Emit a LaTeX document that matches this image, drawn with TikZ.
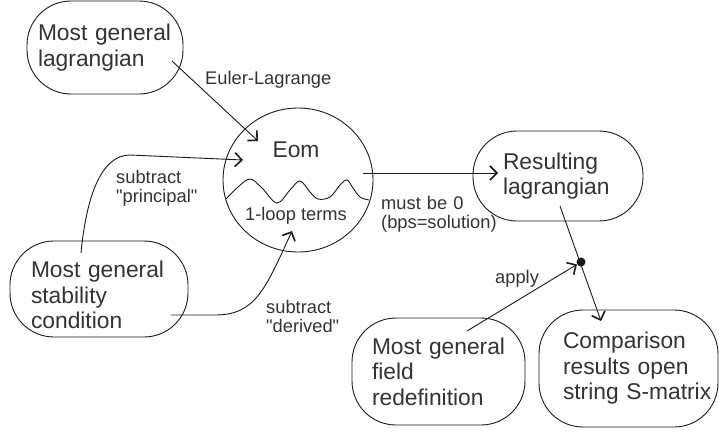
\documentclass[tikz,border=0pt]{standalone}
\usepackage{fontspec}
\setmainfont{Liberation Sans}[Ligatures=TeXOff]
\usetikzlibrary{arrows.meta,shapes.geometric}
\definecolor{txt}{HTML}{333333}
\definecolor{ln}{HTML}{1A1A1A}
\hbadness=10000 \hfuzz=200pt
\begin{document}
\begin{tikzpicture}[x=1pt,y=-1pt,
  box/.style={draw=ln, line width=0.9pt, rounded corners=44pt, align=left,
    font=\fontsize{22.8}{25.5}\selectfont, text=txt, inner sep=0pt},
  big/.style={font=\fontsize{22.8}{25.5}\selectfont, text=txt, inner sep=0pt},
  lbl/.style={font=\fontsize{18.3}{19.5}\selectfont, text=txt, inner sep=0pt,
    anchor=base west, align=left},
  conn/.style={draw=ln, line width=0.9pt,
    -{Straight Barb[length=7pt,width=14pt,line width=1.6pt]}}]
\useasboundingbox (0,0) rectangle (719,434);

% boxes
\node[box, minimum width=156pt, minimum height=93pt, text width=134pt] (lag) at (105,47.5) {\mbox{Most general}\\lagrangian};
\node[box, minimum width=178pt, minimum height=96pt, text width=136pt] (stab) at (99,289) {\rule{0pt}{29pt}\mbox{Most general}\\stability\\condition};
\node[box, minimum width=170pt, minimum height=90pt, text width=110pt] (res) at (558,176) {Resulting\\lagrangian};
\node[box, minimum width=173pt, minimum height=107pt, text width=133pt] (fld) at (438.5,371.5) {\mbox{Most general}\\field\\redefinition};
\node[box, minimum width=179pt, minimum height=117pt, text width=131pt] (cmp) at (628.5,368.5) {Comparison\\\mbox{results open}\\\mbox{string S-matrix}};

% Eom circle
\node[draw=ln, line width=0.9pt, ellipse, minimum width=150pt, minimum height=144pt, inner sep=0pt] (eom) at (298,180) {};
\node[big, anchor=base] (eomt) at (296,157) {Eom};
\node[lbl, anchor=base] (loop) at (296,220) {1-loop terms};
\draw[ln, line width=0.9pt] plot[smooth, tension=0.6] coordinates {(226,199) (238,187) (250,179) (262,188) (277,203) (290,190) (300,181) (310,192) (318,199) (330,197) (340,185) (347,180) (353,188) (360,197) (369,200)};

% labels
\node[lbl] (el) at (205,84) {\mbox{Euler-Lagrange}};
\node[lbl, text width=90pt] (sp) at (116,183) {subtract\\"principal"};
\node[lbl, text width=90pt] (sd) at (266,313) {subtract\\"derived"};
\node[lbl, text width=130pt] (mb) at (381,209) {must be 0\\(bps=solution)};
\node[lbl] (ap) at (495,283) {apply};

% connector ends
\coordinate (e1) at (172,61);
\coordinate (t1) at (258,141);
\coordinate (s1) at (81,253);
\coordinate (t2) at (243,160);
\coordinate (s2) at (171,315);
\coordinate (t3) at (292,231);
\coordinate (m1) at (363,173);
\coordinate (t4) at (498,173);
\coordinate (r1) at (560,206);
\coordinate (t6) at (601,321);
\coordinate (f1) at (467,331);
\node[circle, fill=ln, inner sep=0pt, minimum size=9pt] (dot) at (581,262) {};

% connectors
\draw[conn] (e1) -- (t1);
\draw[conn] (s1) .. controls (86,200) and (100,155) .. (130,155) -- (t2);
\draw[conn] (s2) -- (215,315) .. controls (255,315) and (265,290) .. (t3);
\draw[conn] (m1) -- (t4);
\draw[conn] (r1) -- (t6);
\draw[conn] (f1) -- (dot);
\end{tikzpicture}
\end{document}
